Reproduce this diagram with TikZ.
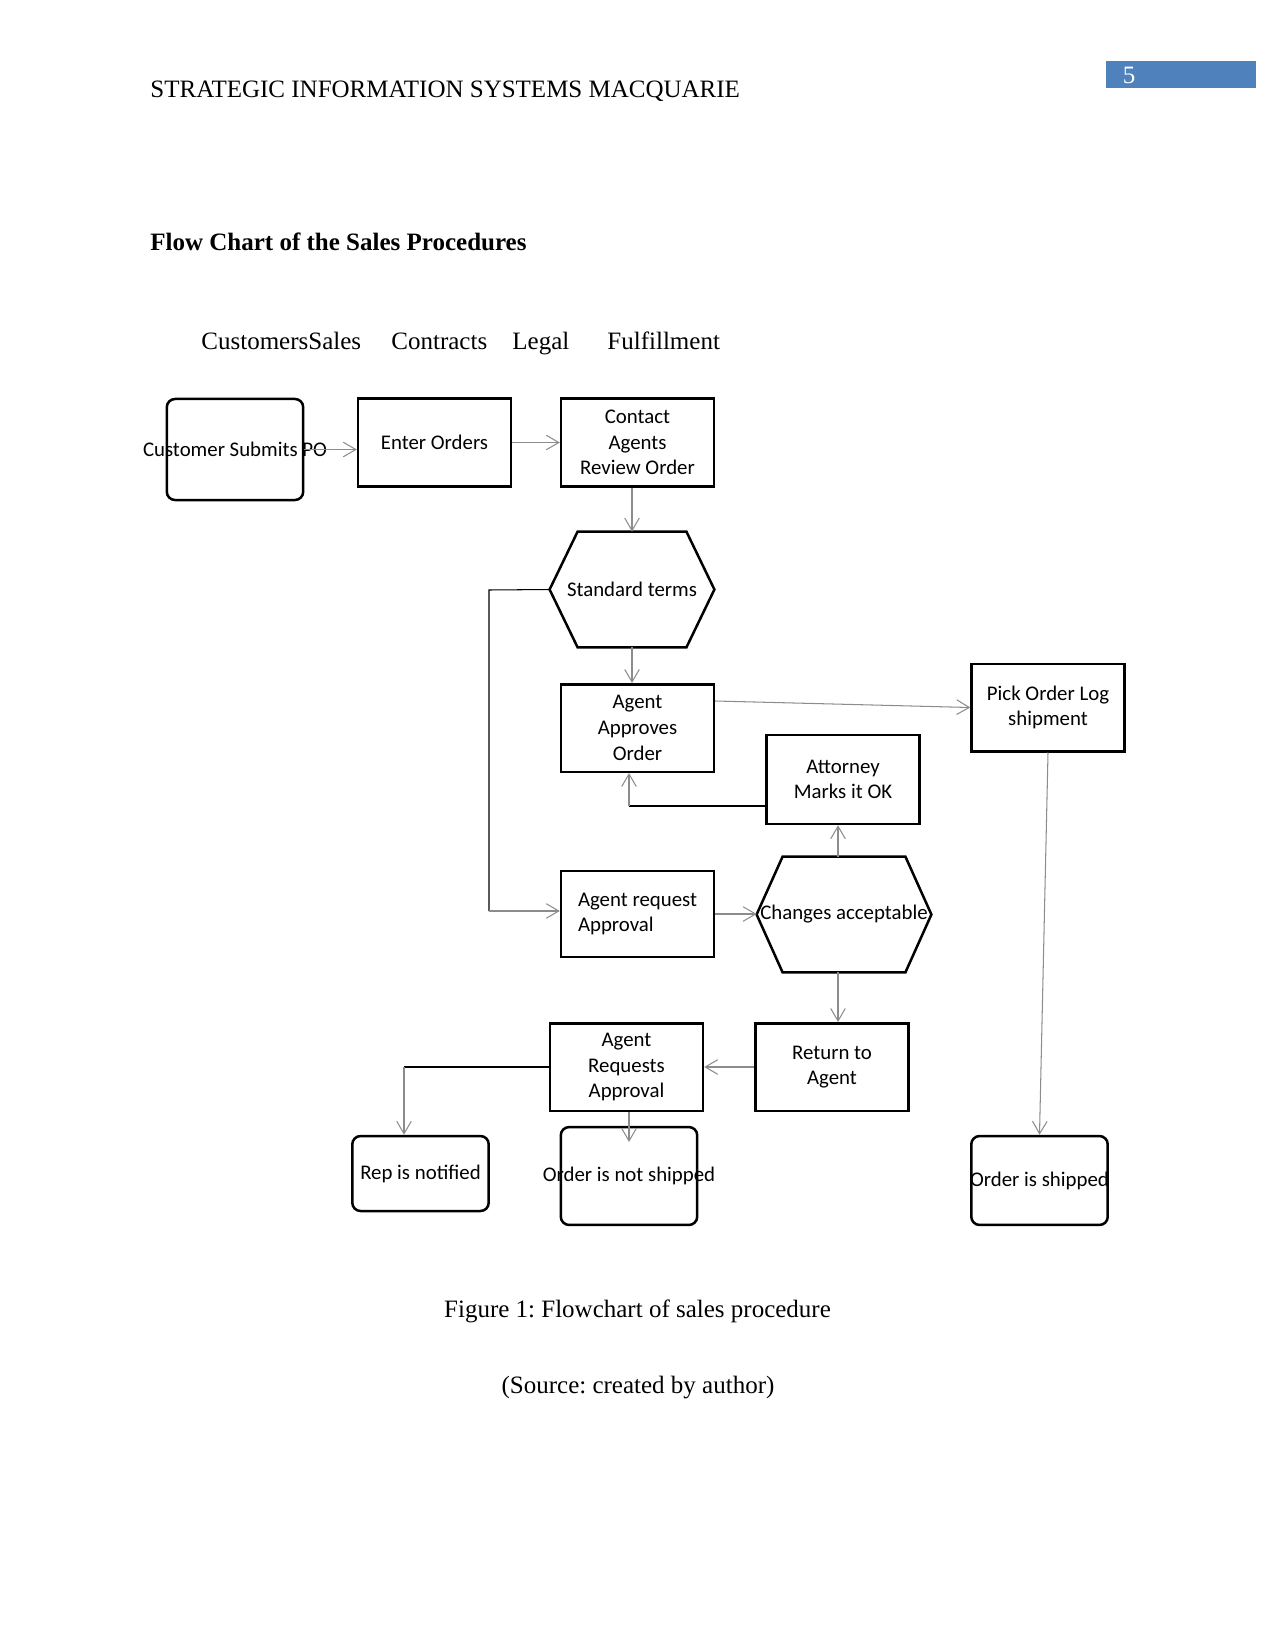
\documentclass[tikz,border=0pt]{standalone}
\usepackage{fontspec}
\setmainfont{Liberation Serif}
\newfontfamily\carlito{Carlito}
\usepackage{tikz}
\usetikzlibrary{
  calc,
  positioning,
  arrows.meta
}
\definecolor{pageblue}{RGB}{79,129,189}
\frenchspacing

\begin{document}
\begin{tikzpicture}[x=0.48pt, y=-0.48pt, >={Straight Barb[length=6pt,width=7pt]}]
  \tikzset{
    boxfont/.style={font=\carlito\fontsize{10}{12.3}\selectfont},
    box/.style={draw, line width=1.2pt, minimum width=73.4pt, minimum height=42pt,
      inner sep=1pt, align=center, boxfont},
    endbox/.style={box, rounded corners=4pt, minimum width=65.5pt},
    hexa/.style={inner sep=0pt, minimum height=55.2pt, boxfont},
    flow/.style={->, draw=gray!90, line width=0.5pt},
    link/.style={draw=black, line width=0.5pt},
    every label/.style={boxfont, inner sep=0pt},
    pagetext/.style={font=\fontsize{12}{14}\selectfont, inner sep=0pt, anchor=base west},
  }

  \useasboundingbox (0,0) rectangle (1275,1650);

  % page head
  \fill[pageblue] (1106,61) rectangle (1256,88);
  \node[font=\fontsize{12}{14}\selectfont, text=white, inner sep=0pt] (pnum) at (1129,75) {5};
  \node[pagetext] (head) at (150,98) {STRATEGIC INFORMATION SYSTEMS MACQUARIE};
  \node[pagetext, font=\fontsize{12}{14}\selectfont\bfseries] (title) at (150,251)
    {Flow Chart of the Sales Procedures};

  % lanes
  \node[pagetext] (lcust) at (201,350) {CustomersSales};
  \node[pagetext] (lcont) at (391,350) {Contracts};
  \node[pagetext] (llegal) at (512,350) {Legal};
  \node[pagetext] (lfulf) at (607,350) {Fulfillment};

  % boxes
  \node[endbox, minimum height=48.5pt, label=center:{Customer Submits PO}] (cust) at (235,449.5) {};
  \node[box] (enter) at (434.5,442.5) {Enter Orders};
  \node[box] (contact) at (637.5,442.5) {Contact\\Agents\\Review Order};
  \node[hexa, minimum width=78.7pt] (std) at (632,589.5) {Standard terms};
  \node[box] (approve) at (637.5,728) {Agent\\Approves\\Order};
  \node[box] (pick) at (1048,707.5) {Pick Order Log\\shipment};
  \node[box, minimum height=42.7pt] (atty) at (843,779.5) {Attorney\\Marks it OK};
  \node[box, align=left, minimum height=41.3pt] (reqa) at (637.5,914) {Agent request\\Approval};
  \node[hexa, minimum width=83.5pt] (chg) at (844,914.5) {Changes acceptable};
  \node[box] (ret) at (832,1067) {Return to\\Agent};
  \node[box] (areq) at (626.5,1067) {Agent\\Requests\\Approval};
  \node[endbox, minimum height=36pt] (rep) at (420.5,1173.5) {Rep is notified};
  \node[endbox, minimum height=47pt, label=center:{Order is not shipped}] (noship) at (629,1176) {};
  \node[endbox, minimum height=42.7pt, label=center:{Order is shipped}] (ship) at (1039.5,1180.5) {};

  % hexagon outlines
  \draw[line width=1.2pt] (std.west) -- ($(std.north west)+(28,0)$) -- ($(std.north east)+(-28,0)$)
    -- (std.east) -- ($(std.south east)+(-28,0)$) -- ($(std.south west)+(28,0)$) -- cycle;
  \draw[line width=1.2pt] (chg.west) -- ($(chg.north west)+(26,0)$) -- ($(chg.north east)+(-26,0)$)
    -- (chg.east) -- ($(chg.south east)+(-26,0)$) -- ($(chg.south west)+(26,0)$) -- cycle;

  % connectors
  \coordinate (kneeA) at (629,806);
  \coordinate (kneeB) at (489,590);
  \coordinate (kneeC) at (489,911);
  \coordinate (kneeD) at (404,1067);
  \coordinate (tipE) at (629,1142);
  \coordinate (chgN) at ($(chg.north)+(-6,0)$);
  \coordinate (chgS) at ($(chg.south)+(-6,0)$);

  \draw[flow] (cust.east) -- (cust.east -| enter.west);
  \draw[flow] (enter.east) -- (contact.west);
  \draw[flow] (contact.south -| std.north) -- (std.north);
  \draw[flow] (std.south) -- (std.south |- approve.north);
  \draw[flow] ($(approve.north east)!0.2!(approve.south east)$) -- (pick.west);
  \draw[link] (atty.west |- kneeA) -- (kneeA);
  \draw[flow] (kneeA) -- (kneeA |- approve.south);
  \draw[link] (std.west) -- (kneeB) -- (kneeC);
  \draw[flow] (kneeC) -- (kneeC -| reqa.west);
  \draw[flow] (reqa.east) -- (reqa.east -| chg.west);
  \draw[flow] (chgN) -- (chgN |- atty.south);
  \draw[flow] (chgS) -- (chgS |- ret.north);
  \draw[flow] (ret.west) -- (areq.east);
  \draw[link] (areq.west) -- (kneeD);
  \draw[flow] (kneeD) -- (kneeD |- rep.north);
  \draw[flow] (areq.south -| tipE) -- (tipE);
  \draw[flow] (pick.south) -- (ship.north);

  % caption
  \node[font=\fontsize{12}{14}\selectfont, inner sep=0pt, anchor=base] (cap) at (637.5,1317)
    {Figure 1: Flowchart of sales procedure};
  \node[font=\fontsize{12}{14}\selectfont, inner sep=0pt, anchor=base] (src) at (638,1393)
    {(Source: created by author)};
\end{tikzpicture}
\end{document}
